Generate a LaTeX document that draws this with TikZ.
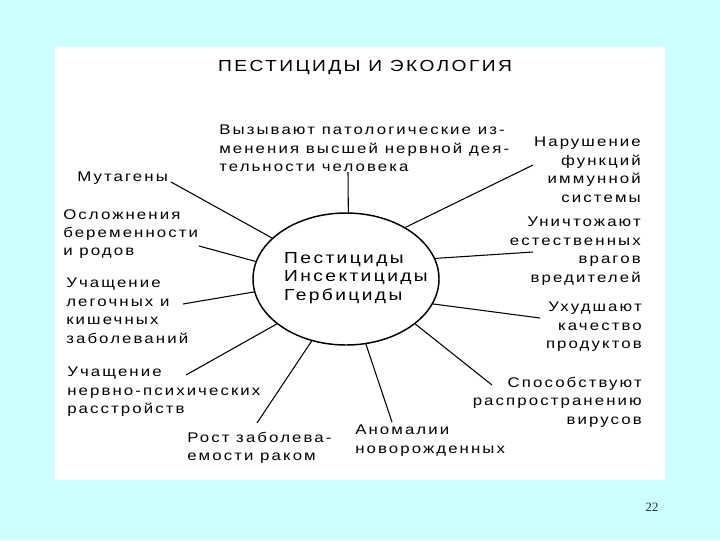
\documentclass[tikz,border=0pt]{standalone}
\usepackage{fontspec}
\setmainfont{Liberation Sans}
\newfontfamily\slidefont[FakeStretch=1.2,LetterSpace=15]{Liberation Sans}
\newfontfamily\numfont{Liberation Serif}
\usetikzlibrary{shapes.geometric}
\definecolor{slidebg}{RGB}{204,255,255}
\definecolor{numcolor}{RGB}{30,40,70}

\begin{document}
\begin{tikzpicture}[x=0.75pt,y=-0.75pt,
  note/.style={inner sep=0pt,font=\slidefont\fontsize{10.5}{13.8}\selectfont},
  leftnote/.style={note,align=left,anchor=north west},
  rightnote/.style={note,align=right,anchor=north east},
  hub/.style={ellipse,draw,line width=1.1pt,minimum width=139.5pt,minimum height=99pt,inner sep=0pt},
  spoke/.style={line width=0.8pt}]
  \useasboundingbox[fill=slidebg] (0,0) rectangle (720,540);
  \fill[white] (55,47) rectangle (665,480);

  \node[note,font=\slidefont\fontsize{12}{14}\selectfont] (title) at (365,68) {ПЕСТИЦИДЫ И ЭКОЛОГИЯ};

  \node[hub] (hub) at (346,279) {};
  \node[note,align=left,font=\slidefont\fontsize{12}{13.9}\selectfont] (agents) at (356,278) {Пестициды\\Инсектициды\\Гербициды};

  \node[leftnote] (cns) at (219,125) {Вызывают патологические из-\\менения высшей нервной дея-\\тельности человека};
  \node[rightnote] (immune) at (641,137) {Нарушение\\функций\\иммунной\\системы};
  \node[leftnote] (mutagen) at (77,172) {Мутагены};
  \node[leftnote] (pregnancy) at (63,209) {Осложнения\\беременности\\и родов};
  \node[leftnote] (lungs) at (66,278) {Учащение\\легочных и\\кишечных\\заболеваний};
  \node[leftnote] (psyche) at (67,367) {Учащение\\нервно-психических\\расстройств};
  \node[leftnote] (cancer) at (187,432) {Рост заболева-\\емости раком};
  \node[leftnote] (newborn) at (355,425) {Аномалии\\новорожденных};
  \node[rightnote] (virus) at (642,377) {Способствуют\\распространению\\вирусов};
  \node[rightnote] (quality) at (642,302) {Ухудшают\\качество\\продуктов};
  \node[rightnote] (enemies) at (641,217) {Уничтожают\\естественных\\врагов\\вредителей};

  \node[inner sep=0pt,font=\numfont\fontsize{9.5}{11}\selectfont,text=numcolor] (pagenum) at (652,507) {22};

  \coordinate (cnsEnd) at (348,172);
  \coordinate (immuneEnd) at (533,165);
  \coordinate (mutagenEnd) at (171,182);
  \coordinate (pregnancyEnd) at (199,246);
  \coordinate (lungsEnd) at (183,304);
  \coordinate (psycheEnd) at (186,375);
  \coordinate (cancerEnd) at (257,423);
  \coordinate (newbornEnd) at (392,422);
  \coordinate (virusEnd) at (492,385);
  \coordinate (qualityEnd) at (540,318);
  \coordinate (enemiesEnd) at (533,252);

  \draw[spoke] (cnsEnd) -- (hub.88);
  \draw[spoke] (immuneEnd) -- (hub.41);
  \draw[spoke] (mutagenEnd) -- (hub.151);
  \draw[spoke] (pregnancyEnd) -- (hub.169);
  \draw[spoke] (lungsEnd) -- (hub.188);
  \draw[spoke] (psycheEnd) -- (hub.213);
  \draw[spoke] (cancerEnd) -- (hub.241);
  \draw[spoke] (newbornEnd) -- (hub.287);
  \draw[spoke] (virusEnd) -- (hub.327);
  \draw[spoke] (qualityEnd) -- (hub.344);
  \draw[spoke] (enemiesEnd) -- (hub.13);
\end{tikzpicture}
\end{document}
